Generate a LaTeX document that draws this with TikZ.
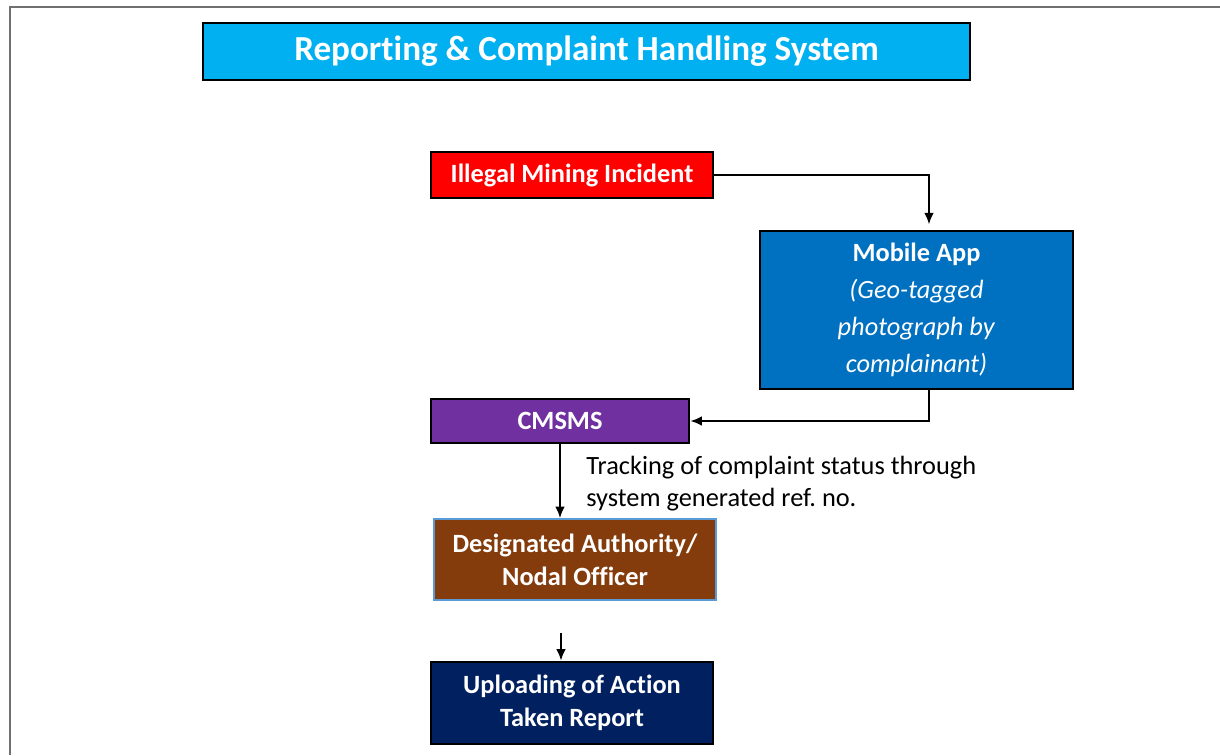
\documentclass[tikz,border=0pt]{standalone}
\usepackage{color}
\usepackage{tikz}
\usetikzlibrary{arrows.meta}
\usepackage{fontspec}
\setmainfont{Carlito}[Ligatures=NoCommon]
\definecolor{titleblue}{HTML}{00B0F0}
\definecolor{appblue}{HTML}{0070C0}
\definecolor{cmsviolet}{HTML}{7030A0}
\definecolor{daborder}{HTML}{5B9BD5}
\definecolor{dabrown}{HTML}{843C0C}
\definecolor{atrnavy}{HTML}{002060}
\definecolor{framegray}{HTML}{707070}

\begin{document}
\begin{tikzpicture}[line width=1.1pt,>={Latex[length=6.5pt,width=5.5pt]},x=0.02cm,y=-0.02cm]
\newcommand{\fsize}{\fontsize{15}{18.7}\selectfont}
\useasboundingbox (0,0) rectangle (1220,755);
\draw[framegray,line width=1.2pt] (10,755) -- (10,7) -- (1220,7);
\begin{scope}[shape=rectangle,inner sep=0pt,align=center,text=white,font=\fsize\bfseries]
\tikzstyle{every node}=[draw,line width=1.6pt]
\node[fill=titleblue,minimum width=15.34cm,minimum height=1.14cm,font=\fontsize{20}{24}\selectfont\bfseries] (Title) at (586.5,51.5) {Reporting \& Complaint Handling System};
\node[fill=red,minimum width=5.64cm,minimum height=0.92cm] (Incident) at (572,175) {Illegal Mining Incident};
\node[fill=appblue,minimum width=6.26cm,minimum height=3.16cm,font=\fontsize{15}{21}\selectfont] (App) at (916.5,310) {\textbf{Mobile App}\\\textit{(Geo-tagged}\\\textit{photograph by}\\\textit{complainant)}};
\node[fill=cmsviolet,minimum width=5.16cm,minimum height=0.88cm] (CMSMS) at (560,421) {CMSMS};
\node[fill=dabrown,draw=daborder,line width=1.1pt,minimum width=5.64cm,minimum height=1.62cm] (Authority) at (575,559.5) {Designated Authority/\\Nodal Officer};
\node[fill=atrnavy,minimum width=5.64cm,minimum height=1.64cm] (ATR) at (572,703) {Uploading of Action\\Taken Report};
\node[draw=none,text=black,align=left,anchor=north west,font=\fontsize{15}{18.3}\selectfont] (Tracking) at (585,455) {Tracking of complaint status through\\system generated ref.\ no.};
\end{scope}
\coordinate (ATRin) at (561,633);
\draw [->] (Incident.east) -| ([xshift=0.25cm,yshift=3pt]App.north);
\draw [->] ([xshift=0.25cm]App.south) |- (CMSMS.east);
\draw [->] (CMSMS.south) -- (CMSMS.south |- Authority.north);
\draw [->] (ATRin) -- (ATRin |- ATR.north);
\end{tikzpicture}
\end{document}
